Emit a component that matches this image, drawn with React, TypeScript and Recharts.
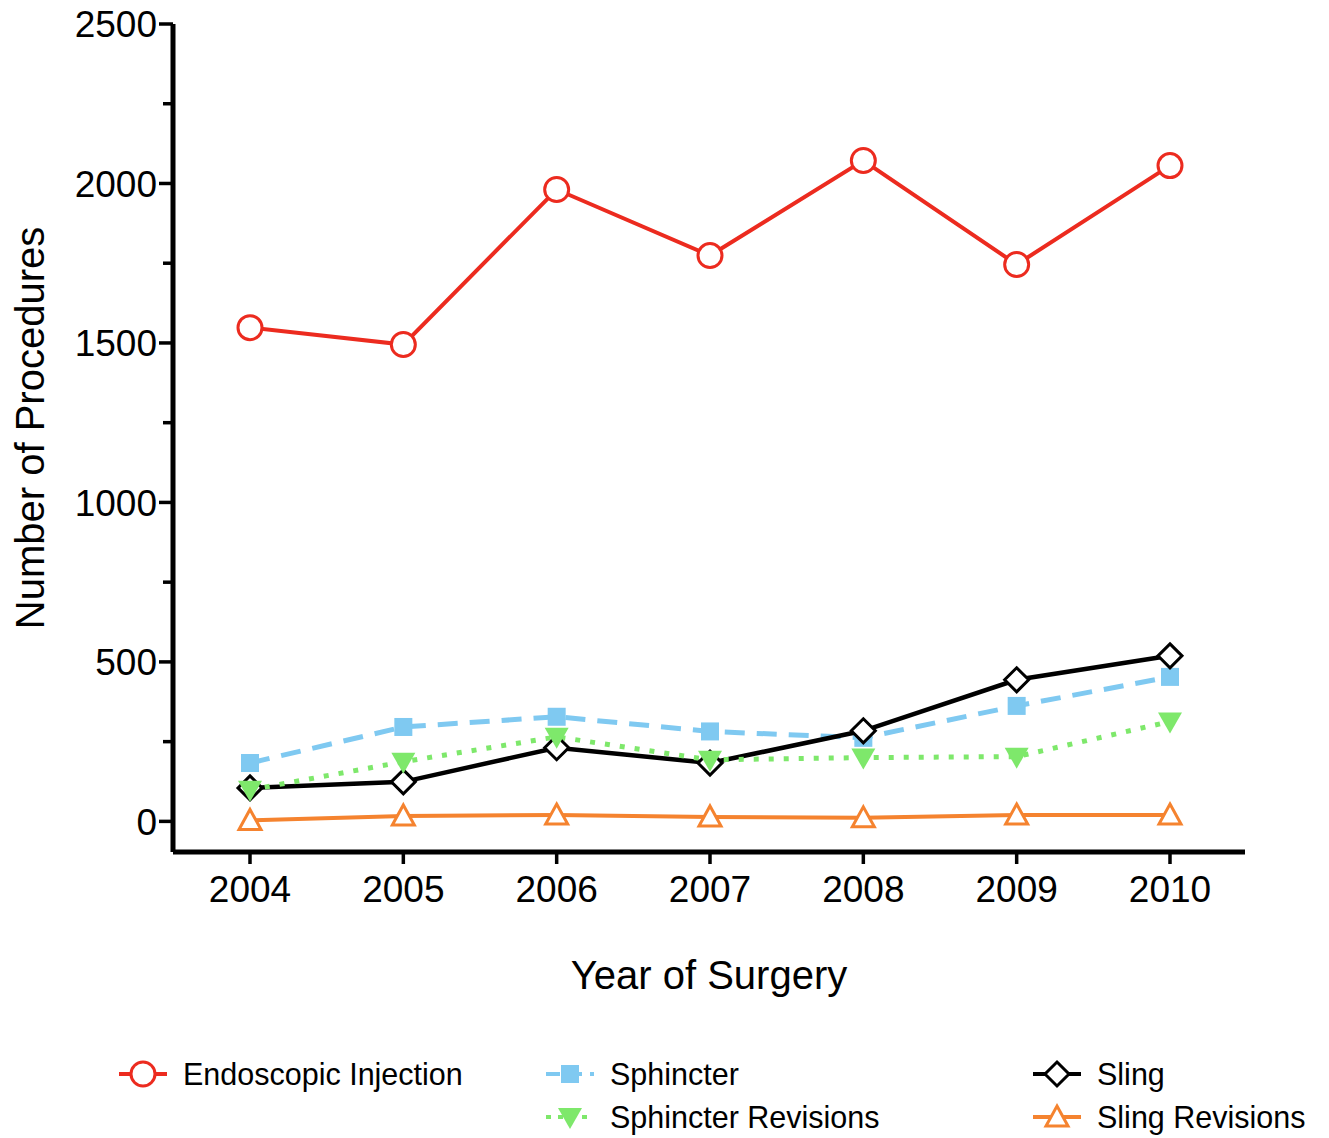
import { LineChart, Line, XAxis, YAxis } from "recharts";

const years = [2004, 2005, 2006, 2007, 2008, 2009, 2010];
const endoscopicInjection = [1548, 1495, 1981, 1774, 2072, 1746, 2056];
const sphincter = [183, 296, 328, 282, 262, 362, 453];
const sphincterRevisions = [99, 187, 265, 193, 200, 203, 313];
const sling = [105, 124, 231, 183, 284, 444, 519];
const slingRevisions = [3, 17, 20, 14, 11, 20, 20];
const yTicks = [0, 250, 500, 750, 1000, 1250, 1500, 1750, 2000, 2250, 2500];

const RED = "#ec2b1f";
const BLUE = "#7fc9f1";
const GREEN = "#7ee86b";
const ORANGE = "#f5832f";
const FONT = "'Liberation Sans', Arial, sans-serif";

const data = years.map((y, i) => ({
  year: y,
  endoscopic: endoscopicInjection[i],
  sphincter: sphincter[i],
  sphincterRev: sphincterRevisions[i],
  sling: sling[i],
  slingRev: slingRevisions[i],
}));

type Mk = { cx: number; cy: number };

const OpenCircle = ({ cx, cy }: Mk) => (
  <circle cx={cx} cy={cy} r={12} fill="#fff" stroke={RED} strokeWidth={3} />
);
const Square = ({ cx, cy }: Mk) => (
  <rect x={cx - 9} y={cy - 9} width={18} height={18} fill={BLUE} />
);
const DownTri = ({ cx, cy }: Mk) => (
  <path d={`M${cx - 12},${cy - 9} L${cx + 12},${cy - 9} L${cx},${cy + 12} Z`} fill={GREEN} />
);
const Diamond = ({ cx, cy }: Mk) => (
  <path d={`M${cx},${cy - 12} L${cx + 12},${cy} L${cx},${cy + 12} L${cx - 12},${cy} Z`} fill="#fff" stroke="#000" strokeWidth={3} />
);
const UpTri = ({ cx, cy }: Mk) => (
  <path d={`M${cx},${cy - 11} L${cx + 11},${cy + 9} L${cx - 11},${cy + 9} Z`} fill="#fff" stroke={ORANGE} strokeWidth={3} />
);

const dotOf = (Shape: any, name: string) => (p: any) =>
  <Shape key={`${name}-${p.index}`} cx={p.cx} cy={p.cy} />;

const YTick = (props: any) => {
  const { x, y, payload } = props;
  const major = payload.value % 500 === 0;
  return (
    <g>
      <line x1={x - (major ? 14 : 10)} x2={x} y1={y} y2={y} stroke="#000" strokeWidth={3.5} />
      {major && (
        <text x={x - 16} y={y} dy="0.355em" textAnchor="end" fontSize={37} fontFamily={FONT} fill="#000">
          {payload.value}
        </text>
      )}
    </g>
  );
};

const legendItems = [
  { label: "Endoscopic Injection", color: RED, Shape: OpenCircle, dash: undefined, left: 118, top: 1074 },
  { label: "Sphincter", color: BLUE, Shape: Square, dash: "14 8", left: 545, top: 1074 },
  { label: "Sphincter Revisions", color: GREEN, Shape: DownTri, dash: "5 7", left: 545, top: 1117 },
  { label: "Sling", color: "#000", Shape: Diamond, dash: undefined, left: 1032, top: 1074 },
  { label: "Sling Revisions", color: ORANGE, Shape: UpTri, dash: undefined, left: 1032, top: 1117 },
];

export default function App() {
  return (
    <div style={{ position: "absolute", left: 0, top: 0, width: 1329, height: 1138, background: "#fff" }}>
      <LineChart width={1329} height={1138} data={data} margin={{ top: 24, right: 84, left: 0, bottom: 146 }}>
        <XAxis
          dataKey="year"
          type="number"
          domain={[2004, 2010]}
          ticks={years}
          padding={{ left: 77, right: 75 }}
          height={140}
          axisLine={{ stroke: "#000", strokeWidth: 5 }}
          tickLine={{ stroke: "#000", strokeWidth: 3.5 }}
          tickSize={12}
          tickMargin={12}
          tick={{ fontSize: 37, fill: "#000", fontFamily: FONT }}
          label={() => (
            <text x={709} y={989} textAnchor="middle" fontSize={40} fontFamily={FONT} fill="#000">
              Year of Surgery
            </text>
          )}
        />
        <YAxis
          type="number"
          domain={[-96, 2500]}
          ticks={yTicks}
          interval={0}
          width={173}
          allowDataOverflow
          axisLine={{ stroke: "#000", strokeWidth: 5 }}
          tickLine={false}
          tickSize={0}
          tickMargin={0}
          tick={<YTick />}
          label={() => (
            <text
              x={30}
              y={428}
              transform="rotate(-90 30 428)"
              textAnchor="middle"
              dominantBaseline="central"
              fontSize={40}
              fontFamily={FONT}
              fill="#000"
            >
              Number of Procedures
            </text>
          )}
        />
        <Line dataKey="endoscopic" stroke={RED} strokeWidth={4} dot={dotOf(OpenCircle, "e")} isAnimationActive={false} />
        <Line dataKey="sphincter" stroke={BLUE} strokeWidth={5} strokeDasharray="20 12" dot={dotOf(Square, "s")} isAnimationActive={false} />
        <Line dataKey="sling" stroke="#000" strokeWidth={4.5} dot={dotOf(Diamond, "d")} isAnimationActive={false} />
        <Line dataKey="sphincterRev" stroke={GREEN} strokeWidth={5} strokeDasharray="5 10" dot={dotOf(DownTri, "t")} isAnimationActive={false} />
        <Line dataKey="slingRev" stroke={ORANGE} strokeWidth={4} dot={dotOf(UpTri, "u")} isAnimationActive={false} />
      </LineChart>
      {legendItems.map((it) => (
        <div key={it.label} style={{ position: "absolute", left: it.left, top: it.top - 20, height: 40, display: "flex", alignItems: "center" }}>
          <svg width={50} height={40}>
            <line x1={1} x2={49} y1={20} y2={20} stroke={it.color} strokeWidth={4} strokeDasharray={it.dash} />
            <it.Shape cx={25} cy={20} />
          </svg>
          <span style={{ marginLeft: 15, fontSize: 30.5, fontFamily: FONT, color: "#000", whiteSpace: "nowrap" }}>{it.label}</span>
        </div>
      ))}
    </div>
  );
}
